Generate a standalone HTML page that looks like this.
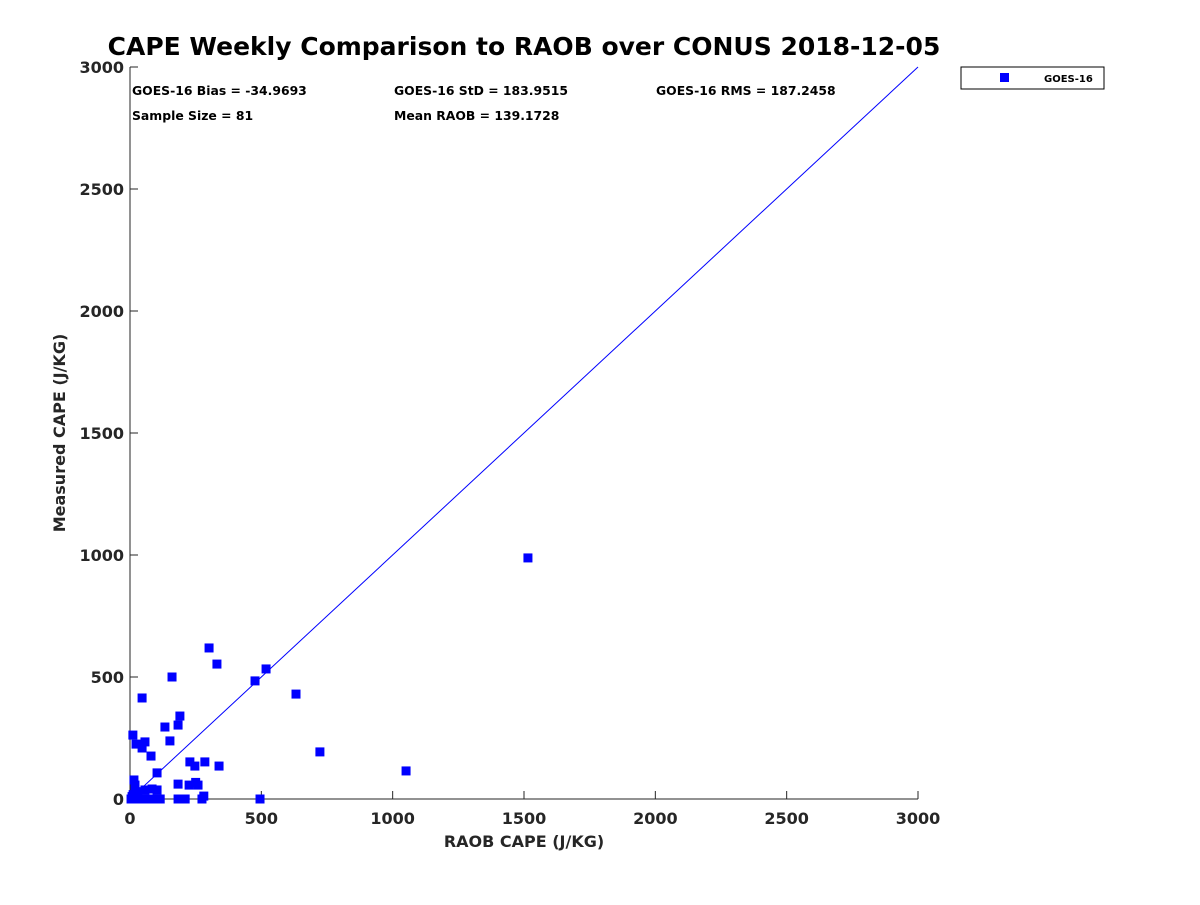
<!DOCTYPE html>
<html><head><meta charset="utf-8"><style>
body{margin:0;background:#fff;font-family:"Liberation Sans",sans-serif;}
svg text{font-family:"DejaVu Sans","Liberation Sans",sans-serif;font-weight:bold;fill:#262626;}
</style></head><body>
<svg id="chart" width="1200" height="900">
<text x="524" y="55" font-size="25" text-anchor="middle" fill="#000" style="fill:#000">CAPE Weekly Comparison to RAOB over CONUS 2018-12-05</text>
<g id="axes"></g>
<g id="marks"></g>
<text x="132" y="95" font-size="12.4" style="fill:#000">GOES-16 Bias = -34.9693</text>
<text x="394" y="95" font-size="12.4" style="fill:#000">GOES-16 StD = 183.9515</text>
<text x="656" y="95" font-size="12.4" style="fill:#000">GOES-16 RMS = 187.2458</text>
<text x="132" y="120" font-size="12.4" style="fill:#000">Sample Size = 81</text>
<text x="394" y="120" font-size="12.4" style="fill:#000">Mean RAOB = 139.1728</text>
<g>
<rect x="961" y="67" width="143" height="22" fill="#fff" stroke="#000" stroke-width="1"/>
<rect x="1000" y="73" width="9" height="9" fill="#0000ff"/>
<text x="1044" y="82" font-size="10" style="fill:#000">GOES-16</text>
</g>
<text x="524" y="847" font-size="16" text-anchor="middle">RAOB CAPE (J/KG)</text>
<text transform="translate(65,433) rotate(-90)" font-size="16" text-anchor="middle">Measured CAPE (J/KG)</text>
</svg>
<script>
const xTicks=[0,500,1000,1500,2000,2500,3000];
const yTicks=[0,500,1000,1500,2000,2500,3000];
const raobX=[1515,1051,723,632,518,476,301,331,160,46,190,183,133,152,11,23,46,57,80,339,285,228,247,103,15,19,183,259,225,183,195,281,274,495,103,84,57,19,70,95,115,4,19,38,53,12,30,250,210,8,28];
const goesY=[988,115,193,430,533,484,619,553,500,414,340,303,295,238,262,225,209,234,176,135,152,152,135,107,78,57,61,57,57,0,0,12,0,0,37,41,37,37,0,0,0,0,0,0,0,18,30,68,0,10,0];
const X0=130,X1=918,Y0=799,Y1=67;
const sx=v=>X0+(v/3000)*(X1-X0);
const sy=v=>Y0-(v/3000)*(Y0-Y1);
const NS="http://www.w3.org/2000/svg";
const axes=document.getElementById('axes'),marks=document.getElementById('marks');
function mk(tag,at,par){const e=document.createElementNS(NS,tag);for(const k in at)e.setAttribute(k,at[k]);par.appendChild(e);return e;}
let l=mk('line',{x1:X0,y1:Y0,x2:X1,y2:Y0,stroke:'#262626'},axes);


l=mk('line',{x1:X0,y1:Y0,x2:X0,y2:Y1,stroke:'#262626'},axes);


xTicks.forEach(t=>{
 const x=sx(t);
 const tk=mk('line',{x1:x,y1:Y0,x2:x,y2:Y0-8,stroke:'#262626'},axes);
 
 
 const tx=mk('text',{x:x,y:Y0+25,'font-size':16,'text-anchor':'middle'},axes);
 tx.textContent=t;
 
 
});
yTicks.forEach(t=>{
 const y=sy(t);
 const tk=mk('line',{x1:X0,y1:y,x2:X0+8,y2:y,stroke:'#262626'},axes);
 
 
 const tx=mk('text',{x:X0-6,y:y+6,'font-size':16,'text-anchor':'end'},axes);
 tx.textContent=t;
 
 
});
const ref=mk('line',{x1:sx(0),y1:sy(0),x2:sx(3000),y2:sy(3000),stroke:'#0000ff','stroke-width':1},marks);


raobX.forEach((v,i)=>{
 const r=mk('rect',{x:sx(v)-4.5,y:sy(goesY[i])-4.5,width:9,height:9,fill:'#0000ff'},marks);
 
 
});
</script>
</body></html>
